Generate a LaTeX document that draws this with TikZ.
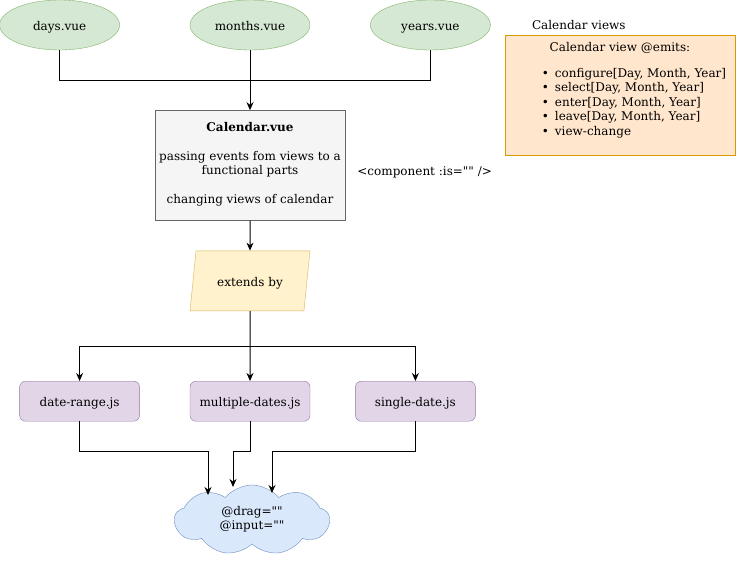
\documentclass[tikz,border=0pt]{standalone}
\usepackage{fontspec}
\setmainfont{DejaVu Serif}[Ligatures=TeXOff]
\usepackage{xcolor}
\usetikzlibrary{calc, positioning, arrows.meta, shapes.geometric, shapes.symbols}

\definecolor{verdeF}{HTML}{D5E8D4}\definecolor{verdeB}{HTML}{82B366}
\definecolor{grisF}{HTML}{F5F5F5}\definecolor{grisB}{HTML}{666666}
\definecolor{amaF}{HTML}{FFF2CC}\definecolor{amaB}{HTML}{D6B656}
\definecolor{morF}{HTML}{E1D5E7}\definecolor{morB}{HTML}{9673A6}
\definecolor{azulF}{HTML}{DAE8FC}\definecolor{azulB}{HTML}{6C8EBF}
\definecolor{narF}{HTML}{FFE6CC}\definecolor{narB}{HTML}{D79B00}

\tikzset{
	base/.style={font=\fontsize{12}{14.5}\selectfont, align=center, inner sep=0pt},
	linea1/.style={text height=11pt, text depth=0pt},
	vista/.style={base, linea1, ellipse, draw=verdeB, fill=verdeF, minimum width=120pt, minimum height=50pt},
	comp/.style={base, rectangle, draw=grisB, fill=grisF, minimum width=190pt, minimum height=110pt},
	extiende/.style={base, linea1, trapezium, trapezium left angle=71.6, trapezium right angle=108.4, trapezium stretches=true, draw=amaB, fill=amaF, minimum width=120pt, minimum height=60pt},
	modo/.style={base, linea1, rectangle, rounded corners=6pt, draw=morB, fill=morF, minimum width=120pt, minimum height=40pt},
	nube/.style={base, cloud, cloud puffs=9, cloud puff arc=100, aspect=2.2, draw=azulB, fill=azulF, minimum width=155pt, minimum height=70pt},
	caja/.style={rectangle, draw=narB, fill=narF, minimum width=230pt, minimum height=120pt},
	flecha/.style={-{Stealth[length=8pt, width=7pt]}, line width=1pt},
	linea/.style={line width=1pt},
}

\begin{document}
\begin{tikzpicture}[x=1pt, y=-1pt, node distance=60pt]
	\useasboundingbox (0,0) rectangle (736,561);
	% nodos %
	\node[vista] (months) at (250,25) {months.vue};
	\node[vista, left=70pt of months] (days) {days.vue};
	\node[vista, right=60pt of months] (years) {years.vue};
	\node[comp, below=60pt of months] (cal) {\textbf{Calendar.vue}\\[14.5pt]passing events fom views to a\\functional parts\\[14.5pt]changing views of calendar\rule[-5pt]{0pt}{1pt}};
	\node[base, linea1, right=12pt of cal, yshift=-5pt] (is) {<component :is="" />};
	\node[extiende, below=30pt of cal] (ext) {extends by};
	\node[modo, below=70pt of ext] (multi) {multiple-dates.js};
	\node[modo, left=50pt of multi] (range) {date-range.js};
	\node[modo, right=45pt of multi] (single) {single-date.js};
	\node[nube] (drag) at (252,520) {@drag=""\\@input=""\rule[-4pt]{0pt}{1pt}};
	% caja de eventos %
	\node[caja] (emits) at (620,95) {};
	\node[base, anchor=south west] (titulo) at ([xshift=27pt, yshift=5pt]emits.north west) {Calendar views};
	\node[base, anchor=north] (lista) at ([xshift=14pt, yshift=-7pt]emits.north) {\hspace*{-28pt}Calendar view @emits:\\[13pt]
		\begin{tabular}{@{}l@{\hspace{6pt}}l@{}}
		\textbullet & configure[Day, Month, Year]\\
		\textbullet & select[Day, Month, Year]\\
		\textbullet & enter[Day, Month, Year]\\
		\textbullet & leave[Day, Month, Year]\\
		\textbullet & view-change
		\end{tabular}};
	% puntos de union %
	\coordinate (junta) at ($(months.south)!.5!(cal.north)$);
	\coordinate (reparte) at ($(ext.south)!.5!(multi.north)$);
	\coordinate (inA) at ($(drag.center)+(-44,-25)$);
	\coordinate (inB) at ($(drag.center)+(-19,-33)$);
	\coordinate (inC) at ($(drag.center)+(20,-27)$);
	% conexiones %
	\draw[linea] (days.south) |- (junta);
	\draw[linea] (years.south) |- (junta);
	\draw[flecha] (months) -- (cal);
	\draw[flecha] (cal) -- (ext);
	\draw[flecha] (ext) -- (multi);
	\draw[flecha] (reparte) -| (range);
	\draw[flecha] (reparte) -| (single);
	\draw[flecha] (range.south) -- ++(0,30) -| (inA);
	\draw[flecha] (multi.south) -- ++(0,30) -| (inB);
	\draw[flecha] (single.south) -- ++(0,30) -| (inC);
\end{tikzpicture}
\end{document}
